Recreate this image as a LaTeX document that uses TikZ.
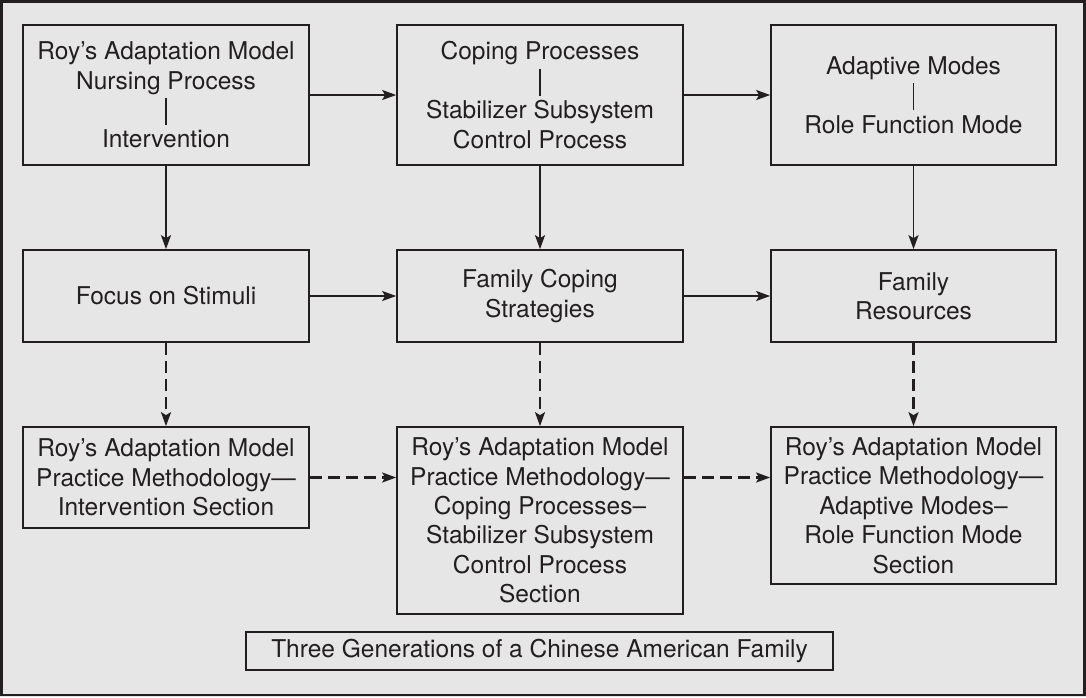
\documentclass[tikz,border=0pt]{standalone}
\usepackage{fontspec}
\setmainfont{TeX Gyre Heros}
\usetikzlibrary{arrows.meta}
\definecolor{ink}{HTML}{231F20}
\definecolor{bg}{HTML}{E6E6E6}
\newcommand{\vbar}{\rule[-6.6pt]{1.6pt}{27pt}}
\begin{document}
\begin{tikzpicture}[x=1pt,y=-1pt,
  box/.style={draw=ink,line width=1.7pt,rectangle,minimum width=286pt,align=center,inner sep=0pt,text=ink,
    font=\fontsize{24.5}{29.4}\selectfont},
  arr/.style={draw=ink,line width=1.8pt,-{Stealth[length=14pt,width=10pt,inset=3pt]}},
  darr/.style={arr,line width=2.1pt,dash pattern=on 12pt off 6pt}]
\fill[bg] (0,0) rectangle (1086,697);
\useasboundingbox (0,0) rectangle (1086,697);
\draw[ink,line width=2.5pt] (1.5,1.5) rectangle (1084.5,695);
\node[box,minimum height=140pt] (A) at (166,95) {Roy’s Adaptation Model\\Nursing Process\\\vbar\\Intervention};
\node[box,minimum height=140pt] (B) at (540,95) {Coping Processes\\\vbar\\Stabilizer Subsystem\\Control Process};
\node[box,minimum height=140pt,minimum width=285pt] (C) at (913.5,95) {Adaptive Modes\\\vbar\\Role Function Mode};
\node[box,minimum height=92pt] (D) at (166,296) {Focus on Stimuli};
\node[box,minimum height=92pt] (E) at (540,296) {Family Coping\\Strategies};
\node[box,minimum height=92pt,minimum width=285pt] (F) at (913.5,296) {Family\\Resources};
\node[box,minimum height=101pt] (G) at (166,477.5) {Roy’s Adaptation Model\\Practice Methodology—\\Intervention Section};
\node[box,minimum height=187pt] (H) at (540,520.5) {Roy’s Adaptation Model\\Practice Methodology—\\Coping Processes–\\Stabilizer Subsystem\\Control Process\\Section};
\node[box,minimum height=157pt,minimum width=285pt] (I) at (913.5,505.5) {Roy’s Adaptation Model\\Practice Methodology—\\Adaptive Modes–\\Role Function Mode\\Section};
\node[box,minimum height=38pt,minimum width=587pt] (T) at (539.5,651) {Three Generations of a Chinese American Family};
\draw[arr] (A.east) -- (B.west);
\draw[arr] (B.east) -- (C.west);
\draw[arr] (D.east) -- (E.west);
\draw[arr] (E.east) -- (F.west);
\draw[arr] (A.south) -- (D.north);
\draw[arr] (B.south) -- (E.north);
\draw[arr] (C.south) -- (F.north);
\draw[darr] (D.south) -- (G.north);
\draw[darr] (E.south) -- (H.north);
\draw[darr] (F.south) -- (I.north);
\draw[darr] (G.east) -- (G.east -| H.west);
\draw[darr] (G.east -| H.east) -- (G.east -| I.west);
\end{tikzpicture}
\end{document}
